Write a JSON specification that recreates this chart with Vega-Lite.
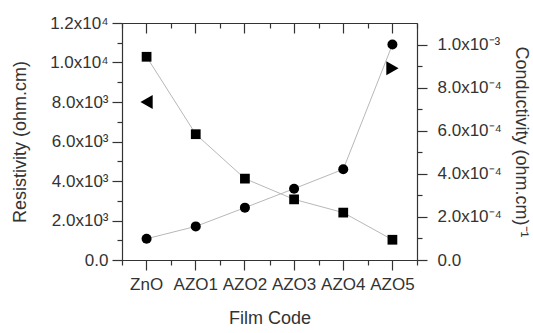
{
  "$schema": "https://vega.github.io/schema/vega-lite/v6.json",
  "width": 295,
  "height": 237,
  "autosize": {"type": "none"},
  "padding": {"left": 122, "top": 23, "right": 116, "bottom": 73},
  "background": "white",
  "config": {
    "view": {"stroke": null},
    "axis": {
      "labelFont": "Liberation Sans",
      "titleFont": "Liberation Sans",
      "labelColor": "#333333",
      "titleColor": "#333333",
      "domainColor": "#333333",
      "tickColor": "#333333",
      "grid": false,
      "titleFontWeight": "normal",
      "labelFontSize": 17,
      "titleFontSize": 18,
      "domainWidth": 1.2,
      "tickWidth": 1.2,
      "labelOverlap": false
    }
  },
  "datasets": {
    "films": [
      {"film": "ZnO", "resistivity": 10290, "conductivity": 0.0000986},
      {"film": "AZO1", "resistivity": 6370, "conductivity": 0.000156},
      {"film": "AZO2", "resistivity": 4120, "conductivity": 0.000243},
      {"film": "AZO3", "resistivity": 3070, "conductivity": 0.000331},
      {"film": "AZO4", "resistivity": 2400, "conductivity": 0.000421},
      {"film": "AZO5", "resistivity": 1025, "conductivity": 0.001}
    ],
    "resArrow": [{"film": "ZnO", "resistivity": 8000}],
    "condArrow": [{"film": "AZO5", "conductivity": 0.00089}]
  },
  "layer": [
    {
      "data": {"name": "films"},
      "encoding": {
        "x": {
          "field": "film", "type": "ordinal", "bandPosition": 0.5,
          "scale": {"type": "band", "paddingInner": 0, "paddingOuter": 0, "domain": ["ZnO", "AZO1", "AZO2", "AZO3", "AZO4", "AZO5"]},
          "axis": {"orient": "bottom", "title": "Film Code", "labelAngle": 0, "tickSize": 10, "labelPadding": 6, "titlePadding": 17, "domain": true}
        },
        "y": {
          "field": "resistivity", "type": "quantitative",
          "scale": {"domain": [0, 12000], "nice": false, "zero": true},
          "axis": {
            "orient": "left",
            "title": "Resistivity (ohm.cm)",
            "values": [0, 1000, 2000, 3000, 4000, 5000, 6000, 7000, 8000, 9000, 10000, 11000, 12000],
            "tickSize": {"condition": {"test": "datum.value % 2000 === 0", "value": 10}, "value": 5},
            "labelPadding": 4,
            "titlePadding": 20,
            "labelExpr": "datum.value === 0 ? '0.0' : (datum.value % 2000 !== 0 ? '' : (datum.value >= 10000 ? format(datum.value / 10000, '.1f') + 'x10⁴' : format(datum.value / 1000, '.1f') + 'x10³'))"
          }
        }
      },
      "layer": [
        {"mark": {"type": "line", "color": "#b8b8b8", "strokeWidth": 1}},
        {"mark": {"type": "point", "shape": "square", "filled": true, "color": "black", "opacity": 1, "size": 95}},
        {"data": {"name": "resArrow"}, "mark": {"type": "point", "shape": "triangle-left", "filled": true, "color": "black", "opacity": 1, "size": 200}}
      ]
    },
    {
      "data": {"name": "films"},
      "encoding": {
        "x": {
          "field": "film", "type": "ordinal", "bandPosition": 0.5,
          "scale": {"type": "band", "paddingInner": 0, "paddingOuter": 0, "domain": ["ZnO", "AZO1", "AZO2", "AZO3", "AZO4", "AZO5"]},
          "axis": {"orient": "top", "title": null, "labels": false, "tickSize": -10, "domain": true}
        },
        "y": {
          "field": "conductivity", "type": "quantitative",
          "scale": {"domain": [0, 0.0011], "nice": false, "zero": true},
          "axis": {
            "orient": "right",
            "title": "Conductivity (ohm.cm)⁻¹",
            "values": [0, 0.0001, 0.0002, 0.0003, 0.0004, 0.0005, 0.0006, 0.0007, 0.0008, 0.0009, 0.001],
            "tickSize": {"condition": {"test": "round(datum.value * 10000) % 2 === 0", "value": 10}, "value": 5},
            "labelPadding": 10,
            "titlePadding": 10,
            "labelExpr": "datum.value === 0 ? '0.0' : (round(datum.value * 10000) % 2 !== 0 ? '' : (datum.value > 0.00099 ? '1.0x10⁻³' : format(datum.value * 10000, '.1f') + 'x10⁻⁴'))"
          }
        }
      },
      "layer": [
        {"mark": {"type": "line", "color": "#b8b8b8", "strokeWidth": 1}},
        {"mark": {"type": "point", "shape": "circle", "filled": true, "color": "black", "opacity": 1, "size": 100}},
        {"data": {"name": "condArrow"}, "mark": {"type": "point", "shape": "triangle-right", "filled": true, "color": "black", "opacity": 1, "size": 200, "dx": 10}}
      ]
    },
    {
      "data": {"name": "films"},
      "mark": {"type": "point", "opacity": 0},
      "encoding": {
        "x": {
          "field": "film", "type": "ordinal", "bandPosition": 0.5,
          "scale": {"type": "band", "paddingInner": 0, "paddingOuter": 0, "domain": ["ZnO", "AZO1", "AZO2", "AZO3", "AZO4", "AZO5"]},
          "axis": {"orient": "bottom", "title": null, "labels": false, "tickBand": "extent", "tickSize": 5, "domain": false}
        }
      }
    },
    {
      "data": {"name": "films"},
      "mark": {"type": "point", "opacity": 0},
      "encoding": {
        "x": {
          "field": "film", "type": "ordinal", "bandPosition": 0.5,
          "scale": {"type": "band", "paddingInner": 0, "paddingOuter": 0, "domain": ["ZnO", "AZO1", "AZO2", "AZO3", "AZO4", "AZO5"]},
          "axis": {"orient": "top", "title": null, "labels": false, "tickBand": "extent", "tickSize": -5, "domain": false}
        }
      }
    }
  ],
  "resolve": {"scale": {"y": "independent"}, "axis": {"x": "independent", "y": "independent"}}
}
